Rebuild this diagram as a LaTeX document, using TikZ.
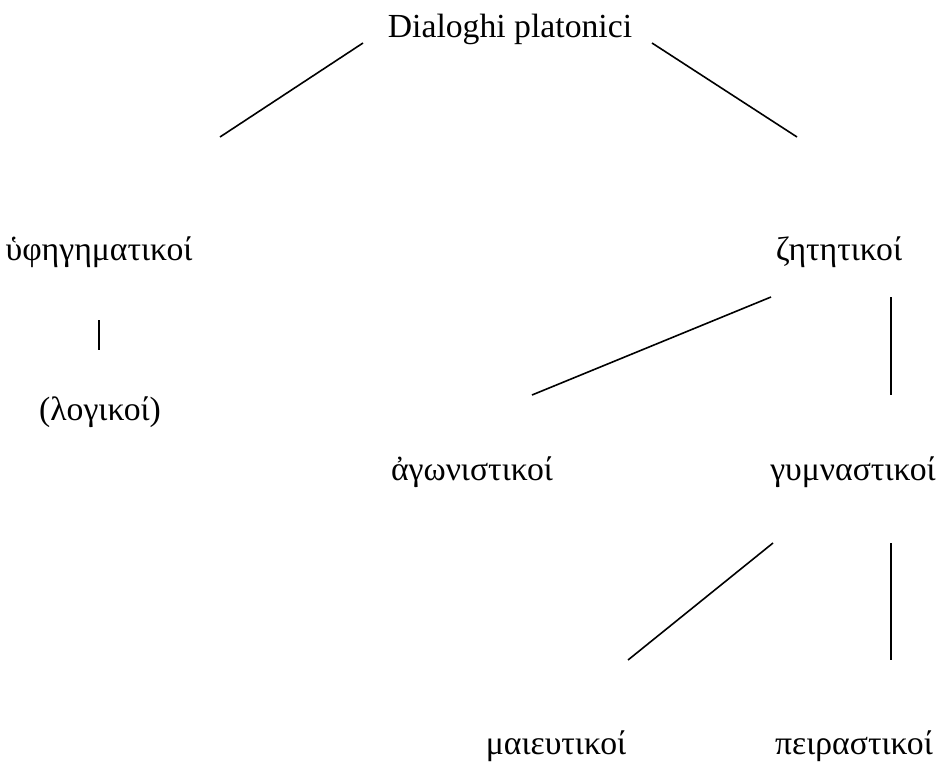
\documentclass[tikz,border=0pt]{standalone}
\usepackage{fontspec}
\setmainfont{Liberation Serif}
\tikzset{
  lbl/.style={anchor=base, inner sep=0pt, font=\fontsize{33.7}{40}\selectfont},
  conn/.style={line width=1.6pt, black}
}
\begin{document}
\begin{tikzpicture}[x=1pt,y=-1pt]
\useasboundingbox (0,0) rectangle (947,763);
\node[lbl] (root) at (510,37) {Dialoghi platonici};
\node[lbl] (yph) at (99,260) {ὑφηγηματικοί};
\node[lbl] (log) at (100,420) {(λογικοί)};
\node[lbl] (zet) at (839,260) {ζητητικοί};
\node[lbl] (ago) at (472,480) {ἀγωνιστικοί};
\node[lbl] (gym) at (853,480) {γυμναστικοί};
\node[lbl] (mai) at (556,754) {μαιευτικοί};
\node[lbl] (pei) at (854,754) {πειραστικοί};
% connector end points
\coordinate (r1) at (363,43);  \coordinate (y1) at (220,137);
\coordinate (r2) at (652,43);  \coordinate (z1) at (797,137);
\coordinate (y2) at (99,320);  \coordinate (l1) at (99,350);
\coordinate (z2) at (771,297); \coordinate (a1) at (532,395);
\coordinate (z3) at (891,297); \coordinate (g1) at (891,395);
\coordinate (g2) at (773,543); \coordinate (m1) at (628,660);
\coordinate (g3) at (891,543); \coordinate (p1) at (891,660);
\draw[conn] (r1) -- (y1);
\draw[conn] (r2) -- (z1);
\draw[conn] (y2) -- (l1);
\draw[conn] (z2) -- (a1);
\draw[conn] (z3) -- (g1);
\draw[conn] (g2) -- (m1);
\draw[conn] (g3) -- (p1);
\end{tikzpicture}
\end{document}
